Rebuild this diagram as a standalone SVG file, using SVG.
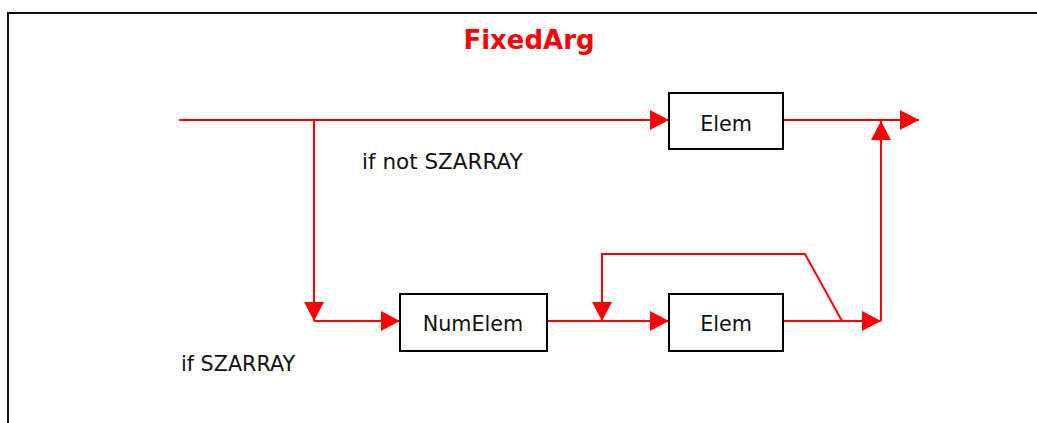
<svg xmlns="http://www.w3.org/2000/svg" width="1037" height="423" viewBox="0 0 1037 423">
<style>
.frame{fill:none;stroke:#111;stroke-width:2}
.box{fill:#fff;stroke:#000;stroke-width:2}
.conn{fill:none;stroke:#ff0000;stroke-width:2}
.lbl{font-family:"DejaVu Sans",Verdana,sans-serif;font-size:20.7px;fill:#111}
.title{font-family:"DejaVu Sans",Verdana,sans-serif;font-size:26px;font-weight:bold;fill:#ff0000}
</style>
<defs>
<marker id="arr" markerUnits="userSpaceOnUse" markerWidth="20" markerHeight="20" refX="19" refY="10" orient="auto" viewBox="0 0 20 20">
<path d="M0,0 L19,10 L0,20 z" fill="#ff0000"/>
</marker>
</defs>
<rect width="1037" height="423" fill="#fff"/>
<path class="frame" d="M8,430 L8,13 L1045,13"/>
<text class="title" x="529" y="49" text-anchor="middle">FixedArg</text>
<g id="connectors">
<path class="conn" d="M179,120 L669,120" marker-end="url(#arr)"/>
<path class="conn" d="M314,120 L314,321" marker-end="url(#arr)"/>
<path class="conn" d="M314,321 L400,321" marker-end="url(#arr)"/>
<path class="conn" d="M547,321 L669,321" marker-end="url(#arr)"/>
<path class="conn" d="M842,321 L805,254 L602,254 L602,321" marker-end="url(#arr)"/>
<path class="conn" d="M783,321 L881,321" marker-end="url(#arr)"/>
<path class="conn" d="M881,321 L881,121" marker-end="url(#arr)"/>
<path class="conn" d="M783,120 L919,120" marker-end="url(#arr)"/>
</g>
<g id="elem-top">
<rect class="box" x="669" y="93" width="114" height="56"/>
<text class="lbl" x="726" y="131" text-anchor="middle">Elem</text>
</g>
<g id="numelem">
<rect class="box" x="400" y="294" width="147" height="57"/>
<text class="lbl" x="473" y="331" text-anchor="middle">NumElem</text>
</g>
<g id="elem-bottom">
<rect class="box" x="669" y="294" width="114" height="57"/>
<text class="lbl" x="726" y="331" text-anchor="middle">Elem</text>
</g>
<text class="lbl" x="362" y="169" style="font-size:21.5px">if not SZARRAY</text>
<text class="lbl" x="181" y="371">if SZARRAY</text>
</svg>
